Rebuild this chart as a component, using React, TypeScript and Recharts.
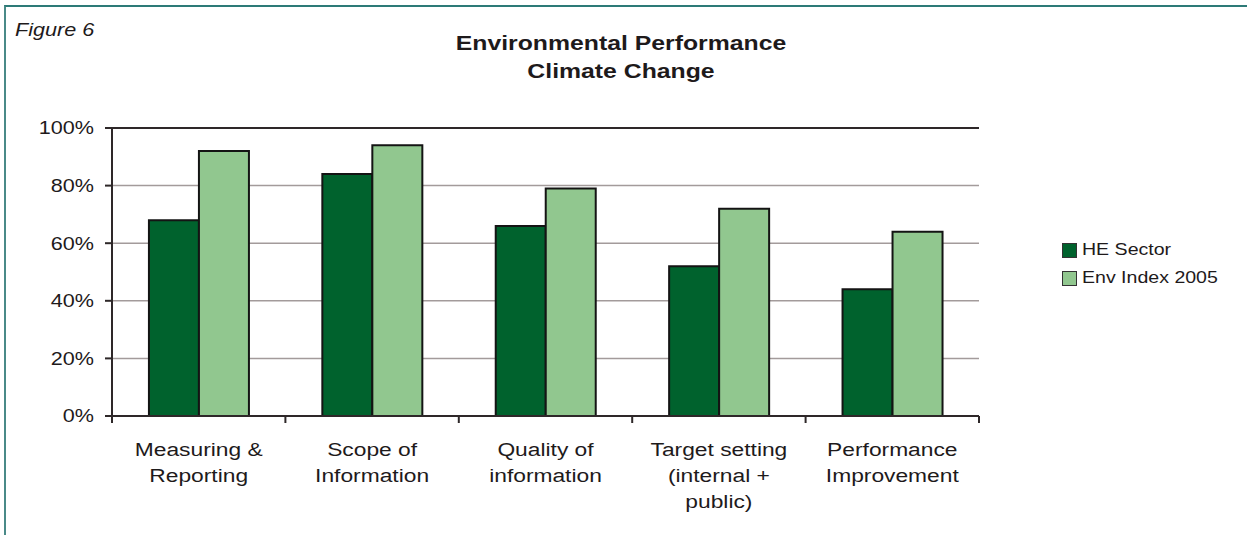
import React from "react";
import {
  BarChart,
  Bar,
  XAxis,
  YAxis,
  CartesianGrid,
  ReferenceLine,
} from "recharts";

const categories = [
  "Measuring &\nReporting",
  "Scope of\nInformation",
  "Quality of\ninformation",
  "Target setting\n(internal +\npublic)",
  "Performance\nImprovement",
];
const heSector = [68, 84, 66, 52, 44];
const envIndex = [92, 94, 79, 72, 64];
const yTicks = [0, 20, 40, 60, 80, 100];
const seriesNames = ["HE Sector", "Env Index 2005"];
const seriesColors = ["#00622d", "#91c78f"];

const data = categories.map((name, i) => ({
  name,
  he: heSector[i],
  env: envIndex[i],
}));

const W = 1247;
const H = 535;
const PLOT_LEFT = 112;
const PLOT_RIGHT = 979;
const BAND = (PLOT_RIGHT - PLOT_LEFT) / categories.length;
const INK = "#1e1a1b";
const AXIS = "#2e2829";
const FONT = "'Liberation Sans', Arial, sans-serif";
const SX = 1.2;

function YTick({ x, y, payload }: any) {
  return (
    <g transform={`translate(${x},${y}) scale(${SX},1)`}>
      <text textAnchor="end" dy="0.36em" fontSize={18} fill={INK} fontFamily={FONT}>
        {payload.value}%
      </text>
    </g>
  );
}

function XTick({ x, y, payload, index }: any) {
  const lines = String(payload.value).split("\n");
  return (
    <g>
      <line x1={x - BAND / 2} x2={x - BAND / 2} y1={y} y2={y + 7} stroke={AXIS} strokeWidth={2} />
      {index === categories.length - 1 && (
        <line x1={x + BAND / 2} x2={x + BAND / 2} y1={y} y2={y + 7} stroke={AXIS} strokeWidth={2} />
      )}
      <g transform={`translate(${x},${y}) scale(${SX},1)`}>
        {lines.map((l, i) => (
          <text key={i} y={40 + i * 26} textAnchor="middle" fontSize={19} fill={INK} fontFamily={FONT}>
            {l}
          </text>
        ))}
      </g>
    </g>
  );
}

export default function App() {
  return (
    <div
      style={{
        position: "absolute",
        left: 0,
        top: 0,
        width: W,
        height: H,
        background: "#fff",
        overflow: "hidden",
      }}
    >
      <div
        style={{
          position: "absolute",
          left: 4,
          top: 5,
          right: 0,
          bottom: 0,
          borderTop: "2px solid #2d7a77",
          borderLeft: "2px solid #4a8a88",
        }}
      />
      <div
        style={{
          position: "absolute",
          left: 15,
          top: 20,
          fontFamily: FONT,
          fontStyle: "italic",
          fontSize: 18,
          color: INK,
          transform: "scaleX(1.2)",
          transformOrigin: "left top",
        }}
      >
        Figure 6
      </div>
      <div
        style={{
          position: "absolute",
          left: 0,
          width: 1242,
          top: 29,
          textAlign: "center",
          fontFamily: FONT,
          fontWeight: "bold",
          fontSize: 21,
          lineHeight: "28px",
          color: INK,
          transform: "scaleX(1.18)",
          transformOrigin: "621px top",
        }}
      >
        Environmental Performance
        <br />
        Climate Change
      </div>
      <div
        style={{
          position: "absolute",
          left: 1062,
          top: 236,
          fontFamily: FONT,
        }}
      >
        {seriesNames.map((n, i) => (
          <div key={n} style={{ display: "flex", alignItems: "center", height: 28 }}>
            <span
              style={{
                width: 13,
                height: 13,
                background: seriesColors[i],
                border: "1px solid #333",
                marginRight: 5,
              }}
            />
            <span
              style={{
                fontSize: 17,
                color: INK,
                transform: "scaleX(1.15)",
                transformOrigin: "left center",
                whiteSpace: "nowrap",
              }}
            >
              {n}
            </span>
          </div>
        ))}
      </div>
      <div style={{ position: "absolute", left: 0, top: 0 }}>
        <BarChart
          width={W}
          height={H}
          data={data}
          margin={{ top: 128, right: 268, bottom: 19, left: 52 }}
          barCategoryGap="21.3%"
          barGap={0}
        >
          <CartesianGrid vertical={false} stroke="#a39b9b" strokeWidth={1.5} />
          <XAxis
            dataKey="name"
            height={100}
            interval={0}
            tickSize={0}
            tickMargin={0}
            tickLine={false}
            axisLine={{ stroke: AXIS, strokeWidth: 2 }}
            tick={<XTick />}
          />
          <YAxis
            width={60}
            domain={[0, 100]}
            ticks={yTicks}
            interval={0}
            tickSize={7}
            tickMargin={11}
            tickLine={{ stroke: AXIS, strokeWidth: 2 }}
            axisLine={{ stroke: AXIS, strokeWidth: 2 }}
            tick={<YTick />}
          />
          <YAxis
            yAxisId="right"
            orientation="right"
            width={0}
            domain={[0, 100]}
            tick={false}
            tickLine={false}
            axisLine={{ stroke: AXIS, strokeWidth: 2 }}
          />
          <ReferenceLine y={100} stroke={AXIS} strokeWidth={2} />
          <Bar
            dataKey="he"
            name={seriesNames[0]}
            fill={seriesColors[0]}
            stroke="#141414"
            strokeWidth={2}
            isAnimationActive={false}
          />
          <Bar
            dataKey="env"
            name={seriesNames[1]}
            fill={seriesColors[1]}
            stroke="#141414"
            strokeWidth={2}
            isAnimationActive={false}
          />
        </BarChart>
      </div>
    </div>
  );
}
